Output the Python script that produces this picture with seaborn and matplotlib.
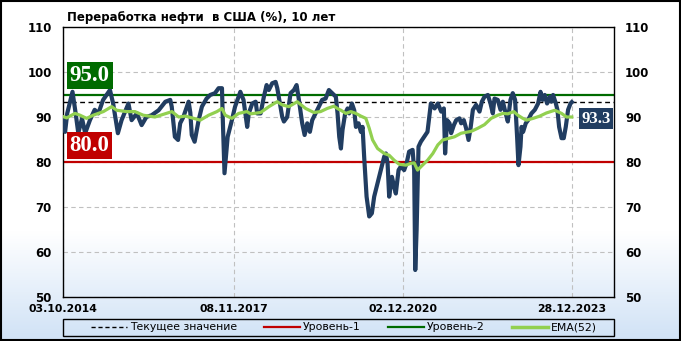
import numpy as np
import pandas as pd
import matplotlib
matplotlib.use("Agg")
import matplotlib.pyplot as plt
import matplotlib.transforms as mtransforms
from matplotlib.lines import Line2D
from matplotlib.patches import Rectangle
from matplotlib.colors import LinearSegmentedColormap
import seaborn as sns

# ---------------- data (weeks since 03.10.2014, value %) ----------------
start_date = "2014-10-03"
util_weeks = [0, 2, 4, 9, 12, 14.5, 18, 21, 25.5, 30, 33.5, 38, 44.5, 47.5, 52, 55.5, 62, 65, 70, 74.5, 79,
              84, 90.6, 97, 101.6, 103, 106, 109, 111, 114, 119, 120.6, 122, 124.7, 128.5, 131.6, 136, 139.5,
              144, 147.4, 150.6, 151.5, 153, 156, 160, 163, 168, 171,
              174.5, 176, 179.3, 182.5, 184, 187.2, 190.3, 192.9, 195, 198.2, 201.4, 203, 205.5, 207.7, 209.3,
              212.4, 215.6, 218.8, 221.3, 223.5, 226.6, 228.9, 231.4, 233.9, 236.1, 239.3, 242.4, 245.5, 248.8,
              251.9, 255, 258.5, 260.1, 261.7, 263.3, 264.8, 267.3, 269.6, 271.1, 273.7, 275.9, 277.5, 280,
              282.2, 283.8, 285.3, 287.6, 290.1, 292.6, 294.8, 298, 301.1, 304.3, 305.9, 307.5, 309, 311.6,
              313.7, 315.3, 317.9, 320.1, 323.2, 325.5, 327.9, 331.2, 332.7, 333.7, 335, 336.8, 339, 342.2,
              345.3, 348.5, 352, 355.1, 358.3, 360.8, 362, 363.9, 366.2, 367.7, 370.3, 372.5, 375.6, 377.2,
              379.7, 381.9, 384.2, 386.1, 388.3, 391.4, 394.6, 396.8, 399.3, 402.5, 405, 407.2, 408.8, 411.9,
              414.5, 416.7, 419.8, 421.4, 423.9, 426.1, 428.3, 430.2, 431.5, 433.4, 434.4, 435.9, 438.4, 440.6,
              443.8, 447, 450.1, 452.4, 454.3, 456.4, 458.6, 461.2, 462.8, 464.3, 466.9, 468.4, 470, 472.3,
              474.4, 476.3, 478.5, 480.8, 482]
util_values = [89.3, 86.7, 90.8, 95.6, 90.8, 86.4, 89.7, 86.4, 89.3, 91.6, 90.8, 93.8, 96.0, 93.0, 86.4, 89.3,
               93.0, 89.3, 90.8, 88.2, 90.0,
               90.4, 91.5, 93.4, 93.8, 92.3, 85.6, 84.9, 88.6, 90.0, 93.4, 91.0, 86.0, 84.5, 89.3, 92.3, 94.1,
               94.9, 95.3, 96.4, 96.4, 88.6, 77.5, 85.6, 89.3, 92.3, 95.6, 93.8,
               87.8, 90.8, 93.0, 93.4, 90.8, 90.8, 94.5, 97.1, 96.0, 97.5, 97.8, 96.4, 93.0, 90.0, 89.0, 90.0,
               95.3, 96.0, 97.1, 93.8, 88.6, 86.0, 88.6, 86.7, 89.3, 90.8, 92.3, 93.8, 94.1, 96.0, 95.3,
               94.5, 90.8, 85.6, 83.0, 87.1, 90.8, 91.9, 90.8, 93.0, 91.5, 87.8, 88.6, 86.7, 87.8, 81.2, 72.3,
               67.9, 68.6, 72.3, 75.3, 78.2, 81.2, 81.9, 79.7, 72.3, 76.7, 74.5, 73.0, 78.2, 79.0, 78.2, 79.7,
               82.3, 82.7, 78.2, 56.0, 64.9, 83.4, 84.5, 85.6, 86.7, 93.0,
               91.9, 93.0, 91.2, 91.9, 81.9, 89.3, 88.6, 86.4, 88.2, 89.3, 89.7, 88.6, 89.3, 87.5, 84.9, 87.5,
               91.6, 92.7, 91.2, 93.4, 94.5, 94.9, 93.0, 90.8, 94.1, 93.8, 91.6, 93.4, 90.4, 89.0, 93.8, 95.3,
               93.8, 85.6, 79.3, 83.4, 87.8, 86.7, 88.6, 89.3, 90.8, 91.6, 93.0, 95.6, 93.8, 94.9, 93.0, 94.5,
               93.4, 94.9, 93.0, 91.6, 87.8, 85.3, 85.3, 87.8, 91.6, 93.0, 93.3]

ema_weeks = [0, 3.5, 8.2, 11.4, 16.1, 22.4, 28.7, 38.2, 46.1, 50.9, 60.3, 68.2, 76, 87.1, 93.8, 103.2, 109.6,
             115.8, 123.8, 130, 138, 145.8, 150.6, 153.7, 160, 166.4, 174.2, 177.7, 187.2, 195.1, 202.9, 207.7,
             214, 221.9, 229.8, 237.7, 244, 250.3, 256.6, 261.4, 263.3, 268, 272.7, 277.5, 282.2, 286.9, 290.1,
             293.3, 298, 304.3, 309, 313.7, 318.5, 324.8, 329.5, 332.7, 335.9, 340.6, 345.4, 350.4, 355.1,
             359.8, 364.6, 370.9, 377.2, 386.6, 393, 399.3, 405.6, 411.9, 416.7, 421.4, 427.1, 430.9, 435.6,
             439.1, 445.4, 451.7, 458, 465.9, 472.3, 477, 482]
ema_values = [90.1, 89.8, 90.4, 90.8, 90.4, 89.7, 90.4, 91.2, 92.3, 91.5, 91.2, 91.2, 90.4, 90.0, 90.5, 91.2,
              90.0, 90.2, 89.7, 89.3, 90.4, 91.2, 91.9, 90.4, 89.7, 90.8, 91.2, 90.7, 91.0, 92.3, 93.4, 92.7,
              92.3, 93.4, 91.9, 91.0, 91.2, 91.9, 92.4, 91.7, 91.5, 90.8, 91.2, 90.8, 90.2, 89.7, 87.5, 84.9,
              83.0, 81.9, 81.5, 80.4, 79.5, 79.3, 79.7, 79.8, 78.2, 79.3, 80.4, 81.9, 83.8, 84.9, 85.2, 85.6,
              86.4, 86.8, 87.5, 88.3, 89.7, 90.4, 90.8, 90.7, 91.2, 90.4, 89.7, 89.3, 89.7, 90.2, 90.9, 91.5,
              90.8, 90.0, 90.0]

current_value = 93.3
level_1 = 80.0
level_2 = 95.0
tick_dates = ["2014-10-03", "2017-11-08", "2020-12-02", "2023-12-28"]
tick_labels = ["03.10.2014", "08.11.2017", "02.12.2020", "28.12.2023"]
y_ticks = [50, 60, 70, 80, 90, 100, 110]
title = "Переработка нефти  в США (%), 10 лет"
legend_labels = ["Текущее значение", "Уровень-1", "Уровень-2", "EMA(52)"]

# ---------------- build frames ----------------
t0 = pd.Timestamp(start_date)
df = pd.DataFrame({"date": t0 + pd.to_timedelta(np.array(util_weeks) * 7, unit="D"),
                   "value": util_values})
ema = pd.DataFrame({"date": t0 + pd.to_timedelta(np.array(ema_weeks) * 7, unit="D"),
                    "value": ema_values})

NAVY = "#213d61"
GREEN_L = "#92d050"
RED = "#c00000"
DKGREEN = "#006b00"

plt.rcParams["font.family"] = ["DejaVu Sans"]

fig = plt.figure(figsize=(6.81, 3.41), dpi=100)
fig.patch.set_facecolor("white")

# gradient background
bg = fig.add_axes([0, 0, 1, 1], zorder=-10)
grad = np.linspace(0, 1, 256).reshape(-1, 1)
cmap = LinearSegmentedColormap.from_list("bg", [(0, "#d0e2f6"), (0.32, "#ffffff"), (1, "#ffffff")])
bg.imshow(grad, aspect="auto", cmap=cmap, origin="lower", extent=[0, 1, 0, 1])
bg.set_axis_off()

ax = fig.add_axes([63 / 681, 1 - 297 / 341, 551 / 681, 270 / 341])
ax.patch.set_alpha(0)

# reference lines
ax.axhline(level_1, color=RED, lw=1.6, zorder=2)
ax.axhline(level_2, color=DKGREEN, lw=1.6, zorder=2)
ax.axhline(current_value, color="black", lw=1.0, ls=(0, (3.5, 2.5)), zorder=2)

sns.lineplot(data=df, x="date", y="value", ax=ax, color=NAVY, lw=3.0, zorder=3, legend=False)
sns.lineplot(data=ema, x="date", y="value", ax=ax, color=GREEN_L, lw=2.3, zorder=4, legend=False)

ax.set_ylim(50, 110)
x_end = t0 + pd.Timedelta(days=522 * 7)
ax.set_xlim(t0, x_end)
ax.set_xlabel("")
ax.set_ylabel("")

ticks = pd.to_datetime(tick_dates)
ax.set_xticks(ticks)
ax.set_xticklabels(tick_labels, fontsize=7.8, fontweight="bold")
ax.set_yticks(y_ticks)
ax.set_yticklabels([str(v) for v in y_ticks], fontsize=8.5, fontweight="bold")
ax.tick_params(axis="x", length=0, pad=5)
ax.tick_params(axis="y", length=0, pad=8, labelright=True, right=False)
for t in ax.yaxis.get_major_ticks():
    t.label2.set_fontweight("bold")
    t.label2.set_fontsize(8.5)
    t.set_pad(8)

ax.grid(axis="y", color="#c0c0c0", ls=(0, (4, 3)), lw=0.8, zorder=0)
ax.grid(axis="x", color="#c0c0c0", ls=(0, (4, 3)), lw=0.8, zorder=0)
for s in ax.spines.values():
    s.set_color("black")
    s.set_linewidth(1.0)

blend = mtransforms.blended_transform_factory(ax.transAxes, ax.transData)
ax.text(0.012, 99.2, f"{level_2:.1f}", transform=blend, ha="left", va="center",
        color="white", fontsize=16.5, fontweight="bold", family=["Liberation Serif"],
        bbox=dict(boxstyle="square,pad=0.13", facecolor=DKGREEN, edgecolor="none"), zorder=6)
ax.text(0.012, 83.6, f"{level_1:.1f}", transform=blend, ha="left", va="center",
        color="white", fontsize=16.5, fontweight="bold", family=["Liberation Serif"],
        bbox=dict(boxstyle="square,pad=0.13", facecolor=RED, edgecolor="none"), zorder=6)
ax.text(0.994, 89.6, f"{current_value:.1f}", transform=blend, ha="right", va="center",
        color="white", fontsize=12, fontweight="bold", family=["Liberation Serif"],
        bbox=dict(boxstyle="square,pad=0.16", facecolor=NAVY, edgecolor="none"), zorder=6)

fig.text(67 / 681, 1 - 17 / 341, title, ha="left", va="center", fontsize=8.5, fontweight="bold")

handles = [Line2D([], [], color="black", lw=1.0, ls=(0, (3, 2))),
           Line2D([], [], color=RED, lw=1.6),
           Line2D([], [], color=DKGREEN, lw=1.6),
           Line2D([], [], color=GREEN_L, lw=2.5)]
leg = fig.legend(handles, legend_labels, loc="center", ncol=4,
                 bbox_to_anchor=(344 / 681, 1 - 327.5 / 341),
                 fontsize=7.8, frameon=False, handlelength=3.3,
                 handletextpad=0.3, borderpad=0.1, columnspacing=2.5, borderaxespad=0.0)

fig.patches.append(Rectangle((63 / 681, 1 - 336 / 341), 551 / 681, 17 / 341, transform=fig.transFigure,
                             fill=False, edgecolor="black", lw=1.0, zorder=19))
fig.patches.append(Rectangle((0.0015, 0.003), 0.997, 0.994, transform=fig.transFigure,
                             fill=False, edgecolor="black", lw=1.5, zorder=20))

fig.savefig("out.png", dpi=100)
